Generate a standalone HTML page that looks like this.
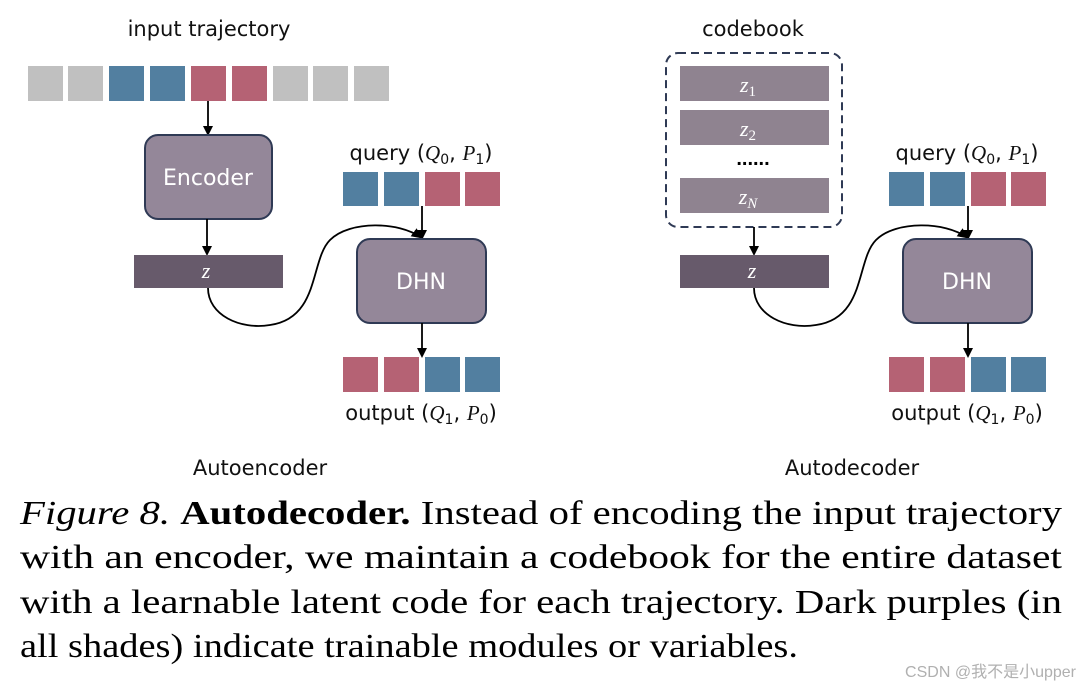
<!DOCTYPE html>
<html><head><meta charset="utf-8"><style>
html,body{margin:0;padding:0;background:#fff;width:1080px;height:689px;overflow:hidden}
svg{display:block}
.lab{font-family:"DejaVu Sans","Liberation Sans",sans-serif;font-size:21px;fill:#111}
.m{font-family:"Liberation Serif",serif;font-style:italic}
.cap{font-family:"Liberation Serif",serif;font-size:34px;fill:#000}
</style></head><body>
<svg width="1080" height="689" viewBox="0 0 1080 689" xmlns="http://www.w3.org/2000/svg">
<defs>
<marker id="ah" markerWidth="10" markerHeight="10" refX="8" refY="5" orient="auto" markerUnits="userSpaceOnUse">
<path d="M0,0 L10,5 L0,10 Z" fill="#000"/></marker>
</defs>
<!-- LEFT -->
<text x="209" y="36" text-anchor="middle" class="lab">input trajectory</text>
<g>
<rect x="28" y="66" width="35" height="35" fill="#c0c0c0"/>
<rect x="68" y="66" width="35" height="35" fill="#c0c0c0"/>
<rect x="109" y="66" width="35" height="35" fill="#527fa0"/>
<rect x="150" y="66" width="35" height="35" fill="#527fa0"/>
<rect x="191" y="66" width="35" height="35" fill="#b56274"/>
<rect x="232" y="66" width="35" height="35" fill="#b56274"/>
<rect x="273" y="66" width="35" height="35" fill="#c0c0c0"/>
<rect x="313" y="66" width="35" height="35" fill="#c0c0c0"/>
<rect x="354" y="66" width="35" height="35" fill="#c0c0c0"/>
</g>
<line x1="208" y1="101" x2="208" y2="134" stroke="#000" stroke-width="1.8" marker-end="url(#ah)"/>
<rect x="145" y="135" width="127" height="84" rx="13" fill="#948799" stroke="#2f3a55" stroke-width="2"/>
<text x="208" y="185" text-anchor="middle" class="lab" style="fill:#fff;font-size:22px">Encoder</text>
<line x1="207" y1="219" x2="207" y2="254" stroke="#000" stroke-width="1.8" marker-end="url(#ah)"/>
<rect x="134" y="255" width="149" height="33" fill="#675a6b"/>
<text x="206" y="278" text-anchor="middle" class="m" style="fill:#fff;font-size:22px">z</text>
<path d="M208,288 C208,315 240,330 270,325 C320,318 310,260 330,240 C350,220 400,222 420,237" fill="none" stroke="#000" stroke-width="1.8" marker-end="url(#ah)"/>
<text x="421" y="160" text-anchor="middle" class="lab">query (<tspan class="m">Q</tspan><tspan font-size="14" dy="4">0</tspan><tspan dy="-4">, </tspan><tspan class="m">P</tspan><tspan font-size="14" dy="4">1</tspan><tspan dy="-4">)</tspan></text>
<rect x="343" y="172" width="35" height="34" fill="#527fa0"/>
<rect x="384" y="172" width="35" height="34" fill="#527fa0"/>
<rect x="425" y="172" width="35" height="34" fill="#b56274"/>
<rect x="465" y="172" width="35" height="34" fill="#b56274"/>
<line x1="422" y1="206" x2="422" y2="238" stroke="#000" stroke-width="1.8" marker-end="url(#ah)"/>
<rect x="357" y="239" width="129" height="84" rx="13" fill="#948799" stroke="#2f3a55" stroke-width="2"/>
<text x="421" y="289" text-anchor="middle" class="lab" style="fill:#fff;font-size:22px">DHN</text>
<line x1="422" y1="323" x2="422" y2="356" stroke="#000" stroke-width="1.8" marker-end="url(#ah)"/>
<rect x="343" y="357" width="35" height="35" fill="#b56274"/>
<rect x="384" y="357" width="35" height="35" fill="#b56274"/>
<rect x="425" y="357" width="35" height="35" fill="#527fa0"/>
<rect x="465" y="357" width="35" height="35" fill="#527fa0"/>
<text x="421" y="420" text-anchor="middle" class="lab">output (<tspan class="m">Q</tspan><tspan font-size="14" dy="4">1</tspan><tspan dy="-4">, </tspan><tspan class="m">P</tspan><tspan font-size="14" dy="4">0</tspan><tspan dy="-4">)</tspan></text>
<text x="260" y="475" text-anchor="middle" class="lab">Autoencoder</text>

<!-- RIGHT -->
<text x="753" y="36" text-anchor="middle" class="lab">codebook</text>
<rect x="666" y="53" width="176" height="174" rx="12" fill="none" stroke="#2f3a55" stroke-width="2" stroke-dasharray="8,5"/>
<rect x="680" y="66" width="149" height="35" fill="#8f8390"/>
<text x="748" y="92" text-anchor="middle" class="m" style="fill:#fff;font-size:22px">z<tspan font-size="15" dy="4" font-style="normal">1</tspan></text>
<rect x="680" y="110" width="149" height="35" fill="#8f8390"/>
<text x="748" y="136" text-anchor="middle" class="m" style="fill:#fff;font-size:22px">z<tspan font-size="15" dy="4" font-style="normal">2</tspan></text>
<text x="753" y="165" text-anchor="middle" style="font-family:'Liberation Sans';font-size:20px;font-weight:bold;fill:#000">......</text>
<rect x="680" y="178" width="149" height="35" fill="#8f8390"/>
<text x="748" y="204" text-anchor="middle" class="m" style="fill:#fff;font-size:22px">z<tspan font-size="15" dy="4">N</tspan></text>
<line x1="754" y1="227" x2="754" y2="254" stroke="#000" stroke-width="1.8" marker-end="url(#ah)"/>
<rect x="680" y="255" width="149" height="33" fill="#675a6b"/>
<text x="752" y="278" text-anchor="middle" class="m" style="fill:#fff;font-size:22px">z</text>
<path d="M754,288 C754,315 786,330 816,325 C866,318 856,260 876,240 C896,220 946,222 966,237" fill="none" stroke="#000" stroke-width="1.8" marker-end="url(#ah)"/>
<text x="967" y="160" text-anchor="middle" class="lab">query (<tspan class="m">Q</tspan><tspan font-size="14" dy="4">0</tspan><tspan dy="-4">, </tspan><tspan class="m">P</tspan><tspan font-size="14" dy="4">1</tspan><tspan dy="-4">)</tspan></text>
<rect x="889" y="172" width="35" height="34" fill="#527fa0"/>
<rect x="930" y="172" width="35" height="34" fill="#527fa0"/>
<rect x="971" y="172" width="35" height="34" fill="#b56274"/>
<rect x="1011" y="172" width="35" height="34" fill="#b56274"/>
<line x1="968" y1="206" x2="968" y2="238" stroke="#000" stroke-width="1.8" marker-end="url(#ah)"/>
<rect x="903" y="239" width="129" height="84" rx="13" fill="#948799" stroke="#2f3a55" stroke-width="2"/>
<text x="967" y="289" text-anchor="middle" class="lab" style="fill:#fff;font-size:22px">DHN</text>
<line x1="968" y1="323" x2="968" y2="356" stroke="#000" stroke-width="1.8" marker-end="url(#ah)"/>
<rect x="889" y="357" width="35" height="35" fill="#b56274"/>
<rect x="930" y="357" width="35" height="35" fill="#b56274"/>
<rect x="971" y="357" width="35" height="35" fill="#527fa0"/>
<rect x="1011" y="357" width="35" height="35" fill="#527fa0"/>
<text x="967" y="420" text-anchor="middle" class="lab">output (<tspan class="m">Q</tspan><tspan font-size="14" dy="4">1</tspan><tspan dy="-4">, </tspan><tspan class="m">P</tspan><tspan font-size="14" dy="4">0</tspan><tspan dy="-4">)</tspan></text>
<text x="852" y="475" text-anchor="middle" class="lab">Autodecoder</text>

<!-- caption -->
<text x="20" y="524" class="cap" textLength="1042" lengthAdjust="spacingAndGlyphs"><tspan font-style="italic">Figure 8.</tspan> <tspan font-weight="bold">Autodecoder.</tspan> Instead of encoding the input trajectory</text>
<text x="20" y="568" class="cap" textLength="1042" lengthAdjust="spacingAndGlyphs">with an encoder, we maintain a codebook for the entire dataset</text>
<text x="20" y="613" class="cap" textLength="1042" lengthAdjust="spacingAndGlyphs">with a learnable latent code for each trajectory. Dark purples (in</text>
<text x="20" y="657" class="cap" textLength="778" lengthAdjust="spacingAndGlyphs">all shades) indicate trainable modules or variables.</text>
<text x="1076" y="677" text-anchor="end" style="font-family:'Liberation Sans','Noto Sans CJK SC',sans-serif;font-size:16px;fill:#b0b0b0">CSDN @我不是小upper</text>
</svg>
</body></html>
